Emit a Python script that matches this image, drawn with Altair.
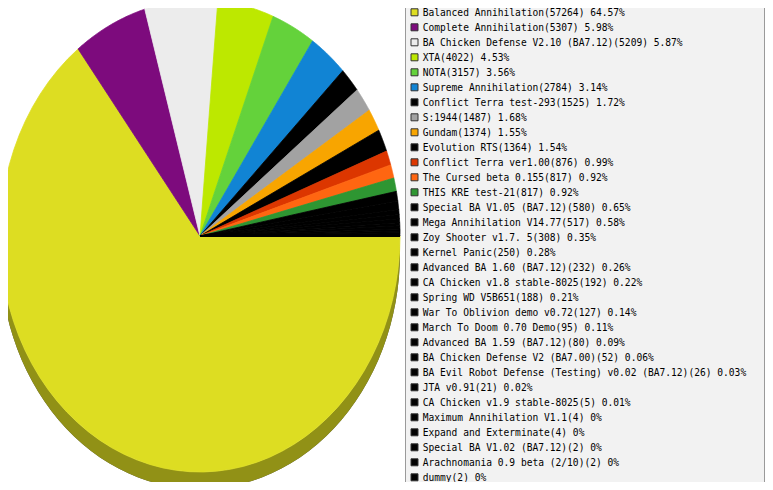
import altair as alt
import pandas as pd

names = [
    "Balanced Annihilation", "Complete Annihilation", "BA Chicken Defense V2.10 (BA7.12)",
    "XTA", "NOTA", "Supreme Annihilation", "Conflict Terra test-293", "S:1944", "Gundam",
    "Evolution RTS", "Conflict Terra ver1.00", "The Cursed beta 0.155", "THIS KRE test-21",
    "Special BA V1.05 (BA7.12)", "Mega Annihilation V14.77", "Zoy Shooter v1.7. 5",
    "Kernel Panic", "Advanced BA 1.60 (BA7.12)", "CA Chicken v1.8 stable-8025",
    "Spring WD V5B651", "War To Oblivion demo v0.72", "March To Doom 0.70 Demo",
    "Advanced BA 1.59 (BA7.12)", "BA Chicken Defense V2 (BA7.00)",
    "BA Evil Robot Defense (Testing) v0.02 (BA7.12)", "JTA v0.91",
    "CA Chicken v1.9 stable-8025", "Maximum Annihilation V1.1", "Expand and Exterminate",
    "Special BA V1.02 (BA7.12)", "Arachnomania 0.9 beta (2/10)", "dummy",
]
counts = [57264, 5307, 5209, 4022, 3157, 2784, 1525, 1487, 1374, 1364, 876, 817, 817,
          580, 517, 308, 250, 232, 192, 188, 127, 95, 80, 52, 26, 21, 5, 4, 4, 2, 2, 2]
pcts = ["64.57", "5.98", "5.87", "4.53", "3.56", "3.14", "1.72", "1.68", "1.55", "1.54",
        "0.99", "0.92", "0.92", "0.65", "0.58", "0.35", "0.28", "0.26", "0.22", "0.21",
        "0.14", "0.11", "0.09", "0.06", "0.03", "0.02", "0.01", "0", "0", "0", "0", "0"]
colors = ["#dddd22", "#7d0b7d", "#ececec", "#bde800", "#64d23b", "#1184d4", "#000000",
          "#a2a2a2", "#f8a500", "#000000", "#dc3600", "#ff6611", "#2e9632"] + ["#000000"] * 19

df = pd.DataFrame({
    "name": names,
    "count": counts,
    "pct": pcts,
    "color": colors,
    "order": list(range(len(names))),
})
df["label"] = [f"{n}({c}) {p}%" for n, c, p in zip(names, counts, pcts)]

N = 60
M = 60
DEPTH = 17 / 236

xs = alt.Scale(domain=[-1, 1], range=[-8, 392])
ys = alt.Scale(domain=[-1, 1], range=[464, -8])

base = alt.Chart(df).transform_joinaggregate(
    total="sum(count)"
).transform_window(
    cum="sum(count)", sort=[alt.SortField("order")], frame=[None, 0]
).transform_calculate(
    a0="2*PI*(datum.cum - datum.count)/datum.total",
    a1="2*PI*datum.cum/datum.total",
)

pie = base.transform_calculate(
    pts=f"sequence(0, {N + 2})"
).transform_flatten(["pts"]).transform_calculate(
    ang=f"datum.a0 + (datum.a1 - datum.a0)*(datum.pts - 1)/{N}"
).transform_calculate(
    px="datum.pts == 0 ? 0 : cos(datum.ang)",
    py="datum.pts == 0 ? 0 : -sin(datum.ang)",
).mark_line(interpolate="linear-closed", filled=True, strokeWidth=0.8).encode(
    x=alt.X("px:Q", scale=xs, axis=None),
    y=alt.Y("py:Q", scale=ys, axis=None),
    order=alt.Order("pts:Q"),
    detail="name:N",
    fill=alt.Fill("color:N", scale=None),
    stroke=alt.Stroke("color:N", scale=None),
)

side_base = base.transform_calculate(
    s0="max(datum.a0, 0)",
    s1="min(datum.a1, PI)",
).transform_filter("datum.s1 > datum.s0").transform_calculate(
    pts=f"sequence(0, {2 * M + 2})"
).transform_flatten(["pts"]).transform_calculate(
    ang=f"datum.pts <= {M} ? datum.s0 + (datum.s1 - datum.s0)*datum.pts/{M} : datum.s1 - (datum.s1 - datum.s0)*(datum.pts - {M + 1})/{M}"
).transform_calculate(
    px="cos(datum.ang)",
    py=f"datum.pts <= {M} ? -sin(datum.ang) : -sin(datum.ang) - {DEPTH}",
)

side_dark = side_base.mark_line(interpolate="linear-closed", filled=True, fill="#000000", strokeWidth=0).encode(
    x=alt.X("px:Q", scale=xs, axis=None),
    y=alt.Y("py:Q", scale=ys, axis=None),
    order=alt.Order("pts:Q"),
    detail="name:N",
)
side_col = side_base.mark_line(interpolate="linear-closed", filled=True, strokeWidth=0, opacity=0.655).encode(
    x=alt.X("px:Q", scale=xs, axis=None),
    y=alt.Y("py:Q", scale=ys, axis=None),
    order=alt.Order("pts:Q"),
    detail="name:N",
    fill=alt.Fill("color:N", scale=None),
)

box = alt.Chart(pd.DataFrame({"k": [0]})).mark_rect(
    fill="#f2f2f2", stroke="#9a9a9a", strokeWidth=1
).encode(
    x=alt.value(397.5), x2=alt.value(756.5), y=alt.value(-7.5), y2=alt.value(480.5)
)

ly = alt.Scale(domain=[0, 31], range=[4.3, 469.3])

swatches = alt.Chart(df).mark_square(size=49, opacity=1, stroke="#333333", strokeWidth=1).encode(
    x=alt.value(406.5),
    y=alt.Y("order:Q", scale=ly, axis=None),
    fill=alt.Fill("color:N", scale=None),
)

labels = alt.Chart(df).mark_text(
    align="left", baseline="alphabetic", dy=3.6, font="DejaVu Sans Mono", fontSize=9.6, color="#000000"
).encode(
    x=alt.value(414.7),
    y=alt.Y("order:Q", scale=ly, axis=None),
    text="label:N",
)

chart = alt.layer(side_dark, side_col, pie, box, swatches, labels).resolve_scale(
    x="independent", y="independent"
).properties(
    width=757, height=474, padding=0, autosize="none"
).configure_view(stroke=None)

chart.save("out.html", embed_options={"renderer": "svg", "actions": False})
